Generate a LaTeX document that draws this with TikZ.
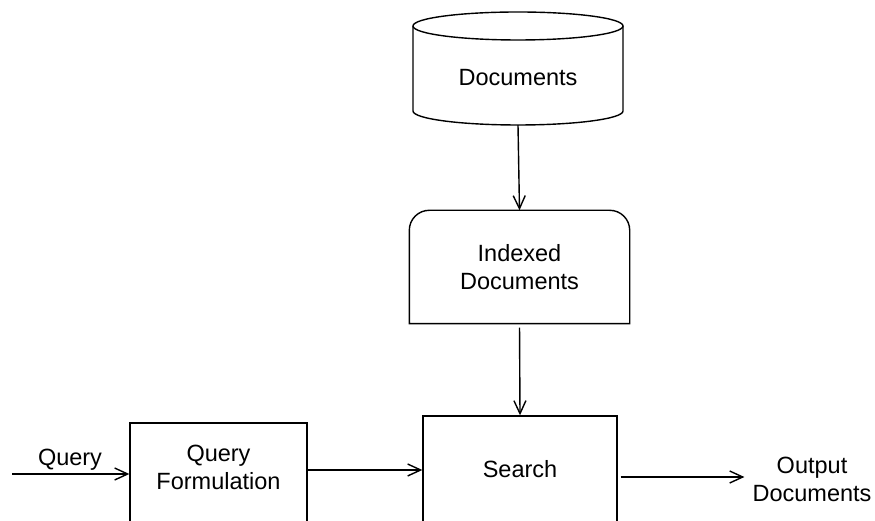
\documentclass[tikz,border=0pt]{standalone}
\usepackage{fontspec}
\setmainfont{Liberation Sans}
\usetikzlibrary{arrows.meta}

\begin{document}
\begin{tikzpicture}[x=1pt, y=1pt,
  line width=1.4pt,
  lbl/.style={font=\fontsize{23.5}{28}\selectfont, align=center, inner sep=0pt},
  box/.style={draw, rectangle, inner sep=0pt},
  flow/.style={-{Straight Barb[length=13pt, width=12pt, line width=1.4pt]}},
]
\useasboundingbox (0,0) rectangle (875,521);
\clip (0,0) rectangle (875,521);

% document store drawn as a cylinder
\node[lbl, minimum width=210, minimum height=113] (docs) at (518,453) {};
\draw (518,495) ellipse [x radius=105, y radius=14];
\draw (413,495) -- (413,410)
      arc [start angle=180, end angle=360, x radius=105, y radius=14]
      -- (623,495);
\node[lbl] (docst) at (518,443) {Documents};

% indexed documents: rounded top corners, square bottom
\node[lbl, minimum width=219, minimum height=112] (idx) at (519.5,254) {Indexed\\Documents};
\draw (idx.south west) -- ([yshift=-20]idx.north west)
      arc [start angle=180, end angle=90, radius=20]
      -- ([xshift=-20]idx.north east)
      arc [start angle=90, end angle=0, radius=20]
      -- (idx.south east) -- cycle;

% processing boxes
\node[box, minimum width=194, minimum height=106] (search) at (520,52) {};
\node[lbl] at (520,52) {Search};
\node[box, minimum width=177, minimum height=104] (qf) at (218.5,46) {};
\node[lbl] (qft) at (218.5,54) {Query\\Formulation};

% query input
\coordinate (qin) at (12,47);
\node[lbl] (qlab) at (70,61) {Query};

% output
\node[lbl, inner xsep=7.5pt] (out) at (812,42) {Output\\Documents};

% connectors
\draw[flow] (docs.south) -- (idx.north);
\draw[flow, shorten <=4pt] (idx.south) -- (search.north);
\draw[flow] (qin) -- (qf.west |- qin);
\draw[flow] (qf.east |- 0,51) -- (search.west |- 0,51);
\draw[flow, shorten <=3pt] (search.east |- 0,44) -- (out.west |- 0,44);
\end{tikzpicture}
\end{document}
